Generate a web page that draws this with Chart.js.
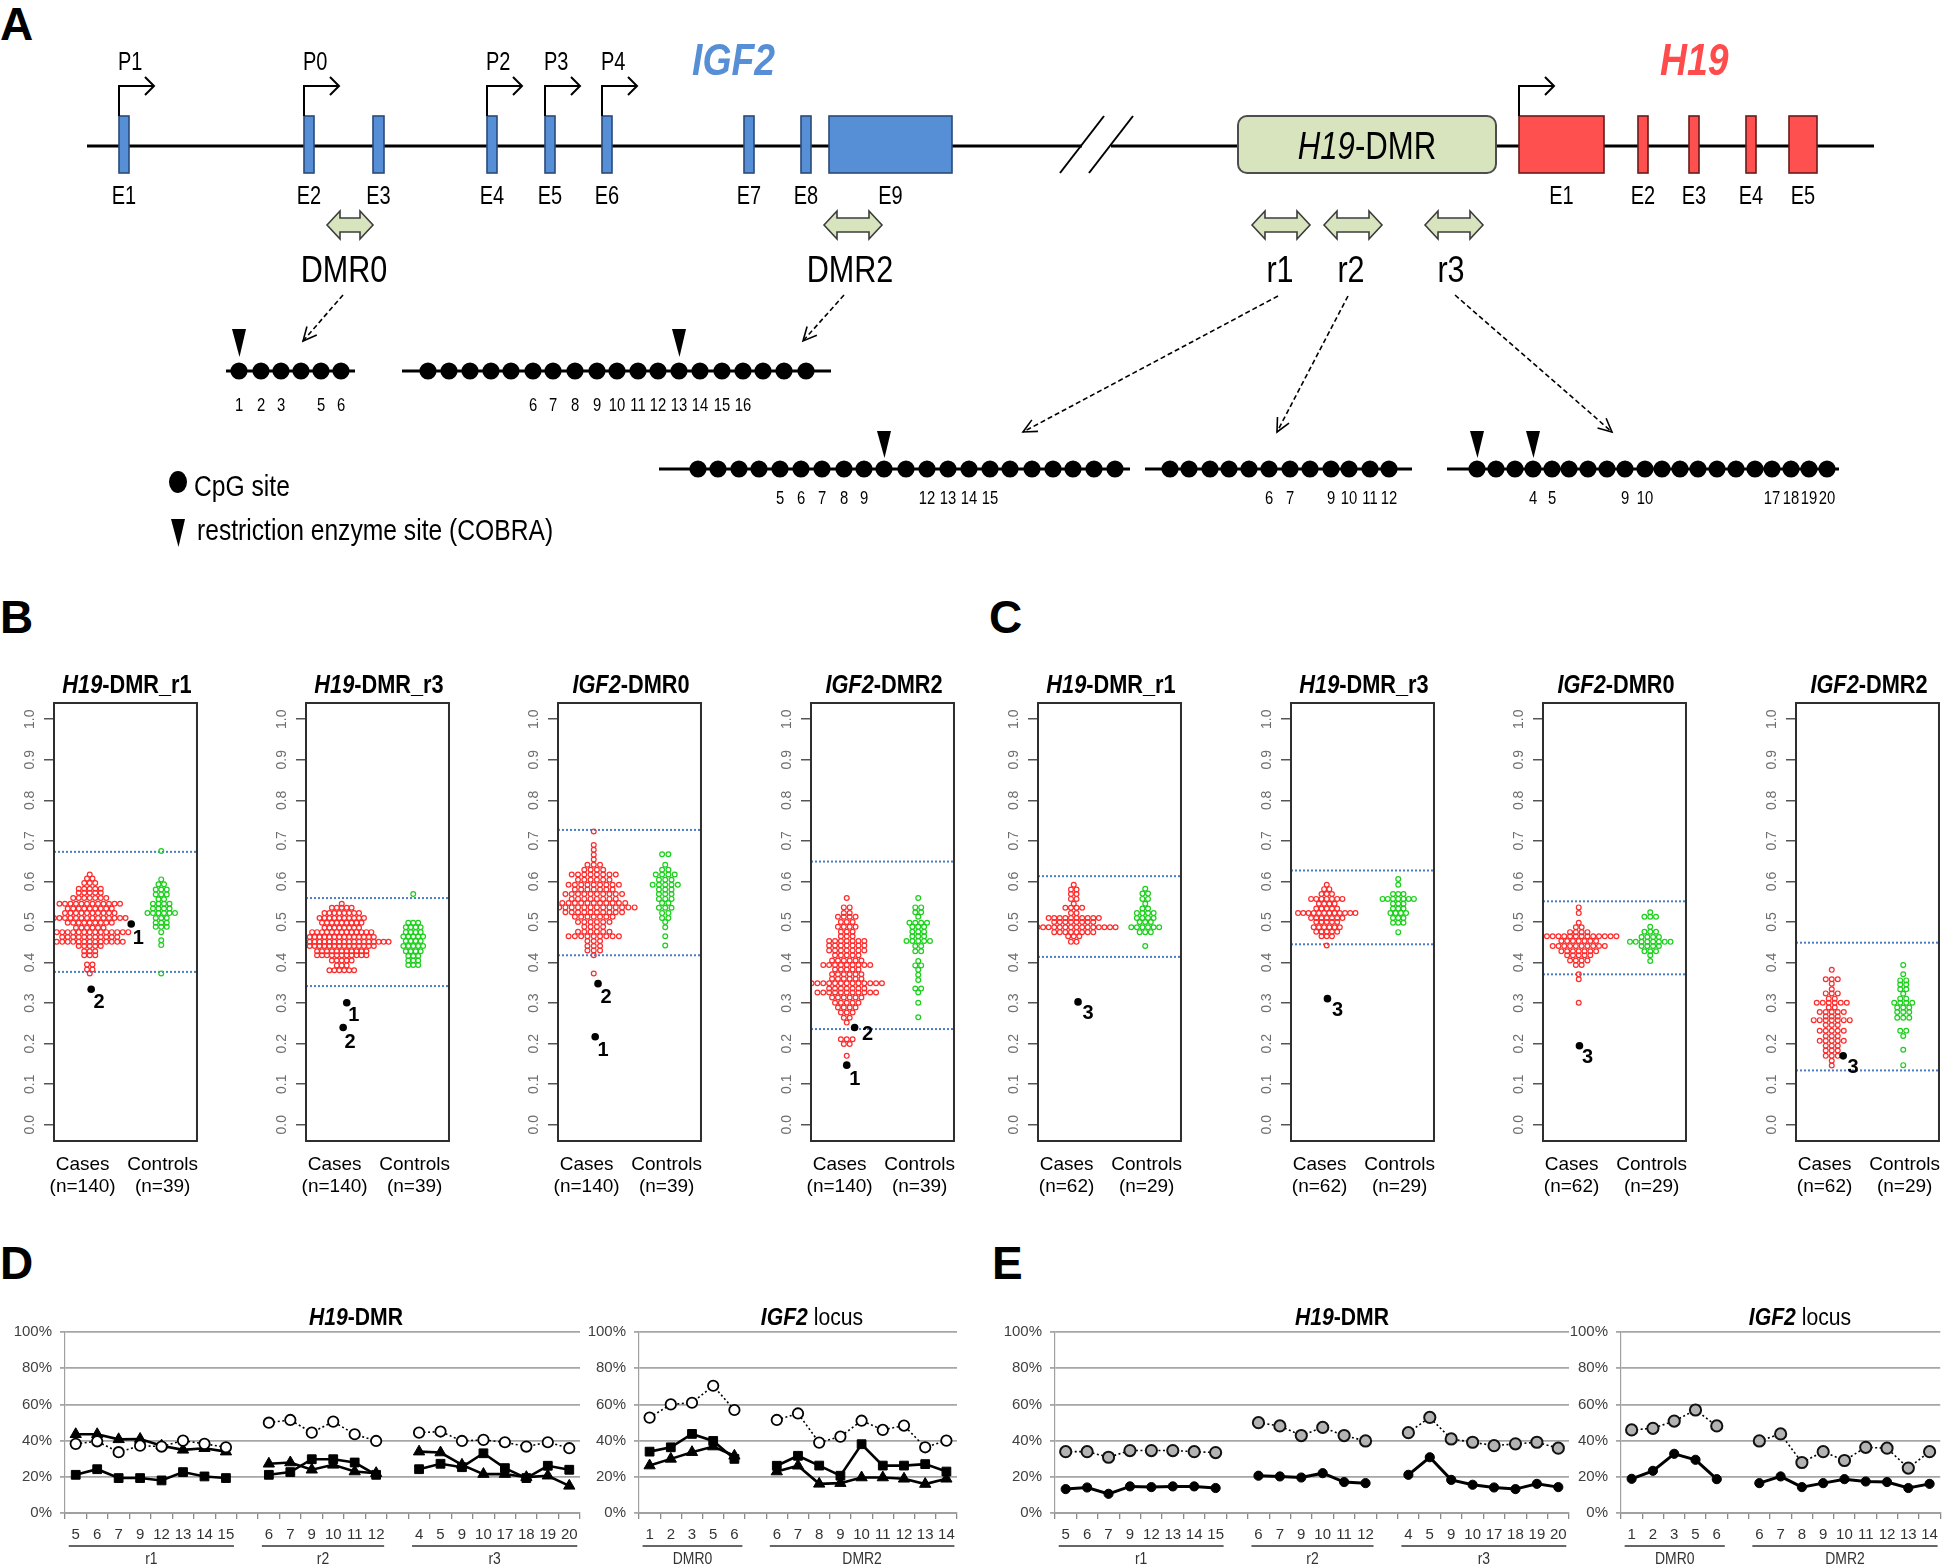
<!DOCTYPE html>
<html>
<head>
<meta charset="utf-8">
<title>H19-DMR / IGF2 methylation</title>
<script src="https://cdn.jsdelivr.net/npm/chart.js@4.4.1/dist/chart.umd.min.js"></script>
<style>
html,body{margin:0;padding:0;background:#fff;}
#page{position:relative;width:1945px;height:1568px;overflow:hidden;background:#fff;}
#page canvas{position:absolute;}
.panel{position:absolute;font-family:'Liberation Sans',Arial,sans-serif;font-weight:bold;font-size:46px;line-height:46px;color:#000;}
.ttl{position:absolute;white-space:nowrap;font-family:'Liberation Sans',Arial,sans-serif;line-height:1;color:#000;}
</style>
</head>
<body>
<div id="page">
  <div class="panel" style="left:0px;top:1px">A</div>
  <div class="panel" style="left:0px;top:594px">B</div>
  <div class="panel" style="left:989px;top:594px">C</div>
  <div class="panel" style="left:0px;top:1240px">D</div>
  <div class="panel" style="left:992px;top:1240px">E</div>
</div>
<script>
const FONT = "'Liberation Sans',Arial,sans-serif";
Chart.defaults.font.family = FONT;
Chart.defaults.color = '#000';

/* ================= Panels B & C : beeswarm data ================= */
const swarmYTicks = [0, 0.1, 0.2, 0.3, 0.4, 0.5, 0.6, 0.7, 0.8, 0.9, 1.0];
const swarmGroups = ['Cases', 'Controls'];
const nB = ['(n=140)', '(n=39)'];
const nC = ['(n=62)', '(n=29)'];

// B : H19-DMR_r1
const bR1CaseVal = [0.617,0.607,0.596,0.582,0.572,0.559,0.545,0.533,0.522,0.510,0.498,0.486,0.475,0.463,0.451,0.441,0.428,0.418,0.395,0.383,0.373];
const bR1CaseCnt = [1,2,3,5,5,7,12,9,10,14,9,6,15,11,13,5,3,3,2,2,1];
const bR1CtrlVal = [0.675,0.605,0.593,0.580,0.568,0.556,0.545,0.533,0.522,0.510,0.498,0.488,0.475,0.455,0.443,0.373];
const bR1CtrlCnt = [1,1,2,3,3,2,4,4,6,3,3,3,1,1,1,1];
const bR1OutVal = [0.495, 0.334];
const bR1OutLab = ['1', '2'];
const bR1Ref = [0.673, 0.377];
// B : H19-DMR_r3
const bR3CaseVal = [0.545,0.535,0.522,0.510,0.498,0.486,0.475,0.463,0.451,0.441,0.428,0.418,0.405,0.393,0.381];
const bR3CaseCnt = [1,5,8,10,9,8,13,14,20,14,11,11,5,3,6];
const bR3CtrlVal = [0.569,0.498,0.487,0.475,0.464,0.453,0.441,0.428,0.416,0.405,0.394];
const bR3CtrlCnt = [1,3,4,4,5,4,5,4,3,3,3];
const bR3OutVal = [0.301, 0.240];
const bR3OutLab = ['1', '2'];
const bR3Ref = [0.559, 0.342];
// B : IGF2-DMR0
const bD0CaseVal = [0.723,0.690,0.678,0.666,0.654,0.641,0.629,0.617,0.604,0.592,0.580,0.569,0.557,0.547,0.536,0.524,0.513,0.500,0.488,0.476,0.465,0.453,0.441,0.430,0.418,0.373];
const bD0CaseCnt = [1,1,1,1,1,3,4,8,6,9,7,10,8,11,14,10,7,6,4,6,9,3,3,3,1,1];
const bD0CtrlVal = [0.667,0.641,0.629,0.617,0.604,0.592,0.580,0.569,0.557,0.547,0.535,0.522,0.510,0.500,0.487,0.465,0.442];
const bD0CtrlCnt = [2,1,2,4,3,5,3,3,3,2,3,2,2,1,1,1,1];
const bD0OutVal = [0.348, 0.217];
const bD0OutLab = ['2', '1'];
const bD0Ref = [0.727, 0.418];
// B : IGF2-DMR2
const bD2CaseVal = [0.559,0.536,0.522,0.513,0.500,0.488,0.476,0.465,0.453,0.442,0.430,0.418,0.405,0.394,0.383,0.371,0.360,0.349,0.336,0.326,0.314,0.301,0.289,0.277,0.264,0.252,0.211,0.199,0.170];
const bD2CaseCnt = [1,2,2,4,3,4,3,3,7,7,7,5,6,9,5,6,6,13,7,11,6,5,4,3,2,1,3,2,1];
const bD2CtrlVal = [0.559,0.536,0.524,0.513,0.498,0.488,0.476,0.465,0.453,0.441,0.428,0.404,0.393,0.382,0.370,0.357,0.336,0.326,0.301,0.265];
const bD2CtrlCnt = [1,2,2,1,4,3,3,3,5,2,2,1,2,1,1,1,2,1,1,1];
const bD2OutVal = [0.240, 0.147];
const bD2OutLab = ['2', '1'];
const bD2Ref = [0.649, 0.236];
// C : H19-DMR_r1
const cR1CaseVal = [0.592,0.580,0.569,0.557,0.545,0.535,0.522,0.510,0.500,0.487,0.475,0.465,0.451];
const cR1CaseCnt = [1,2,2,2,1,4,2,10,8,16,8,3,2];
const cR1CtrlVal = [0.582,0.570,0.557,0.545,0.533,0.522,0.510,0.500,0.487,0.475,0.441];
const cR1CtrlCnt = [1,2,2,1,2,4,4,3,6,3,1];
const cR1OutVal = [0.303];
const cR1OutLab = ['3'];
const cR1Ref = [0.613, 0.414];
// C : H19-DMR_r3
const cR3CaseVal = [0.592,0.581,0.569,0.557,0.545,0.533,0.522,0.510,0.500,0.487,0.476,0.465,0.442];
const cR3CaseCnt = [1,2,3,7,4,5,12,7,5,6,5,3,1];
const cR3CtrlVal = [0.606,0.592,0.569,0.557,0.545,0.533,0.522,0.510,0.498,0.475];
const cR3CtrlCnt = [1,1,3,7,3,3,4,3,3,1];
const cR3OutVal = [0.311];
const cR3OutLab = ['3'];
const cR3Ref = [0.627, 0.445];
// C : IGF2-DMR0
const cD0CaseVal = [0.536,0.522,0.498,0.487,0.475,0.465,0.453,0.441,0.428,0.418,0.405,0.394,0.371,0.359,0.301];
const cD0CaseCnt = [1,1,1,2,4,14,7,10,7,5,4,2,1,1,1];
const cD0CtrlVal = [0.524,0.513,0.488,0.476,0.463,0.451,0.441,0.428,0.418,0.404];
const cD0CtrlCnt = [1,3,1,3,4,8,4,3,1,1];
const cD0OutVal = [0.195];
const cD0OutLab = ['3'];
const cD0Ref = [0.551, 0.371];
// C : IGF2-DMR2
const cD2CaseVal = [0.382,0.359,0.348,0.334,0.324,0.311,0.301,0.289,0.278,0.267,0.258,0.246,0.232,0.219,0.207,0.195,0.183,0.170,0.158,0.146];
const cD2CaseCnt = [1,3,1,1,3,2,6,2,5,3,7,3,5,3,5,3,3,3,1,1];
const cD2CtrlVal = [0.394,0.371,0.356,0.346,0.334,0.323,0.311,0.301,0.289,0.278,0.264,0.232,0.219,0.185,0.147];
const cD2CtrlCnt = [1,1,2,2,2,1,2,4,3,3,3,2,1,1,1];
const cD2OutVal = [0.170];
const cD2OutLab = ['3'];
const cD2Ref = [0.449, 0.134];

/* ================= Panels D & E : per-CpG methylation (%) ================= */
const h19Sites = ['5','6','7','9','12','13','14','15','','6','7','9','10','11','12','','4','5','9','10','17','18','19','20'];
const h19Regions = ['r1','r2','r3'];
const igf2Sites = ['1','2','3','5','6','','6','7','8','9','10','11','12','13','14'];
const igf2Regions = ['DMR0','DMR2'];
const pctTicks = [0, 20, 40, 60, 80, 100];

const dH19Circle   = [38.2,39.6,33.6,37.2,36.7,40.0,38.2,36.3,null,49.9,51.4,44.4,50.5,43.5,39.8,null,44.4,45.0,39.8,40.4,39.1,36.7,39.1,35.8];
const dH19Square   = [21.1,24.2,19.3,19.3,18.0,22.6,20.2,19.3,null,21.1,22.6,29.7,29.7,27.9,21.1,null,24.2,27.2,25.3,33.0,24.8,19.3,26.1,23.9];
const dH19Triangle = [43.5,43.5,40.7,40.9,37.2,34.9,35.8,33.9,null,27.2,27.9,23.9,26.6,22.9,22.0,null,33.9,33.4,26.6,21.5,21.5,19.8,20.6,15.0];
const dIgf2Circle   = [52.7,60.0,60.9,70.3,56.9,null,51.4,55.0,38.9,42.2,51.0,45.9,48.3,36.3,40.0];
const dIgf2Square   = [33.9,36.3,43.7,39.8,29.9,null,26.1,31.6,26.2,20.6,38.0,26.2,26.2,27.0,22.9];
const dIgf2Triangle = [26.2,29.9,33.6,36.7,31.6,null,22.9,26.1,16.1,16.5,19.6,19.6,18.9,16.0,18.9];
const eH19Grey   = [33.9,33.9,30.8,34.5,34.5,34.5,33.9,33.4,null,49.9,48.1,42.8,47.3,42.8,39.8,null,44.4,52.8,40.9,39.1,37.2,38.2,39.1,35.8];
const eH19Black  = [13.2,14.1,10.6,14.7,14.3,14.7,14.7,13.8,null,20.6,20.2,19.6,22.0,17.1,16.5,null,21.1,30.8,18.3,15.6,14.1,13.2,16.1,14.3];
const eIgf2Grey  = [45.9,46.8,50.8,56.9,48.1,null,39.8,43.7,27.9,33.9,29.0,36.3,35.8,24.8,33.9];
const eIgf2Black = [18.9,23.3,32.7,29.4,18.7,null,16.5,20.2,14.3,16.5,18.7,17.4,17.1,13.8,16.1];

/* ================= Panel A : schematic (diagram units) ================= */
const igf2Exons = [['E1',119,129],['E2',304,314],['E3',373,384],['E4',487,497],['E5',545,555],['E6',602,612],['E7',744,754],['E8',801,811],['E9',829,952]];
const h19Exons = [['E1',1519,1604],['E2',1638,1648],['E3',1689,1699],['E4',1746,1756],['E5',1789,1817]];
const igf2Promoters = [['P1',119],['P0',304],['P2',487],['P3',545],['P4',602]];
const regionNames = ['DMR0','DMR2','r1','r2','r3'];
const cpgDMR0 = [239,261,281,301,321,341];
const cpgDMR2 = [428,449,470,491,511,533,553,575,597,617,638,658,679,700,722,743,763,784,806];
const cpgR1 = [698,718,739,759,780,801,822,844,864,884,906,927,948,969,990,1010,1032,1053,1073,1094,1115];
const cpgR2 = [1170,1189,1210,1229,1249,1269,1290,1310,1331,1349,1370,1389];
const cpgR3 = [1477,1496,1515,1533,1552,1569,1588,1607,1625,1645,1662,1680,1698,1717,1736,1755,1772,1791,1809,1827];
const numDMR0 = [1,2,3,5,6];
const numDMR2 = [6,7,8,9,10,11,12,13,14,15,16];
const numR1 = [5,6,7,8,9,12,13,14,15];
const numR2 = [6,7,9,10,11,12];
const numR3 = [4,5,9,10,17,18,19,20];
const cobraDMR0 = [1], cobraDMR2 = [13], cobraR1 = [10], cobraR2 = [], cobraR3 = [1,4];

/* ================= helpers ================= */
const page = document.getElementById('page');
function makeCanvas(left, top, w, h) {
  const c = document.createElement('canvas');
  c.width = w; c.height = h;
  c.style.left = left + 'px'; c.style.top = top + 'px';
  c.style.width = w + 'px'; c.style.height = h + 'px';
  page.appendChild(c);
  return c;
}
function addText(html, x, y, css, sx) {
  const d = document.createElement('div');
  d.className = 'ttl';
  d.innerHTML = html;
  d.style.left = x + 'px'; d.style.top = y + 'px';
  d.style.transform = 'translate(-50%,-50%) scaleX(' + (sx || 1) + ')';
  Object.assign(d.style, css || {});
  page.appendChild(d);
}

/* ================= Panel A chart ================= */
const cpgRowsLayout = [
  {sites: cpgDMR0, nums: numDMR0, cobra: cobraDMR0, y: 371, line: [226, 355], numY: 411, cut: [42, 14]},
  {sites: cpgDMR2, nums: numDMR2, cobra: cobraDMR2, y: 371, line: [402, 831], numY: 411, cut: [42, 14]},
  {sites: cpgR1, nums: numR1, cobra: cobraR1, y: 469, line: [659, 1130], numY: 504, cut: [38, 11]},
  {sites: cpgR2, nums: numR2, cobra: cobraR2, y: 469, line: [1145, 1412], numY: 504, cut: [38, 11]},
  {sites: cpgR3, nums: numR3, cobra: cobraR3, y: 469, line: [1447, 1839], numY: 504, cut: [38, 11]}
];
const regionArrowLayout = [[350, 46, 344], [853, 58, 850], [1281, 58, 1280], [1353, 58, 1351], [1454, 58, 1451]];
const zoomArrowLayout = [[343,295,303,341],[844,295,803,341],[1278,296,1023,432],[1348,296,1277,432],[1455,295,1612,432]];

const schemePlugin = {
  id: 'scheme',
  beforeDatasetsDraw(chart) {
    const ctx = chart.ctx;
    const X = v => chart.scales.x.getPixelForValue(v);
    const Y = v => chart.scales.y.getPixelForValue(v);
    const seg = (x1, y1, x2, y2, w, col) => {
      ctx.beginPath(); ctx.lineWidth = w; ctx.strokeStyle = col || '#000';
      ctx.moveTo(X(x1), Y(y1)); ctx.lineTo(X(x2), Y(y2)); ctx.stroke();
    };
    ctx.save();
    ctx.lineCap = 'butt';
    seg(87, 146, 1082, 146, 3);
    seg(1111, 146, 1874, 146, 3);
    seg(1060, 173, 1104, 116, 2);
    seg(1089, 173, 1133, 116, 2);
    const exon = (a, b, fill, stroke) => {
      ctx.fillStyle = fill; ctx.strokeStyle = stroke; ctx.lineWidth = 1.6;
      ctx.fillRect(X(a), Y(116), X(b) - X(a), Y(173) - Y(116));
      ctx.strokeRect(X(a), Y(116), X(b) - X(a), Y(173) - Y(116));
    };
    igf2Exons.forEach(e => exon(e[1], e[2], '#568fd6', '#2a4a78'));
    h19Exons.forEach(e => exon(e[1], e[2], '#ff5050', '#6a1a1a'));
    {
      const x1 = X(1238), x2 = X(1496), y1 = Y(116), y2 = Y(173), r = 9;
      ctx.beginPath();
      ctx.moveTo(x1 + r, y1); ctx.lineTo(x2 - r, y1); ctx.arcTo(x2, y1, x2, y1 + r, r);
      ctx.lineTo(x2, y2 - r); ctx.arcTo(x2, y2, x2 - r, y2, r);
      ctx.lineTo(x1 + r, y2); ctx.arcTo(x1, y2, x1, y2 - r, r);
      ctx.lineTo(x1, y1 + r); ctx.arcTo(x1, y1, x1 + r, y1, r);
      ctx.closePath();
      ctx.fillStyle = '#d7e4bd'; ctx.fill();
      ctx.strokeStyle = '#4d4d4d'; ctx.lineWidth = 2; ctx.stroke();
    }
    const promoter = x => {
      ctx.strokeStyle = '#000'; ctx.lineWidth = 2;
      ctx.beginPath(); ctx.moveTo(X(x), Y(116)); ctx.lineTo(X(x), Y(86)); ctx.lineTo(X(x + 35), Y(86)); ctx.stroke();
      ctx.beginPath(); ctx.moveTo(X(x + 26), Y(77)); ctx.lineTo(X(x + 35), Y(86)); ctx.lineTo(X(x + 26), Y(95)); ctx.stroke();
    };
    igf2Promoters.forEach(p => promoter(p[1]));
    promoter(h19Exons[0][1]);
    regionArrowLayout.forEach(([cx, w]) => {
      const hw = w / 2, head = 13, cy = 225, hh = 14, sh = 7;
      ctx.beginPath();
      ctx.moveTo(X(cx - hw), Y(cy));
      ctx.lineTo(X(cx - hw + head), Y(cy - hh)); ctx.lineTo(X(cx - hw + head), Y(cy - sh));
      ctx.lineTo(X(cx + hw - head), Y(cy - sh)); ctx.lineTo(X(cx + hw - head), Y(cy - hh));
      ctx.lineTo(X(cx + hw), Y(cy));
      ctx.lineTo(X(cx + hw - head), Y(cy + hh)); ctx.lineTo(X(cx + hw - head), Y(cy + sh));
      ctx.lineTo(X(cx - hw + head), Y(cy + sh)); ctx.lineTo(X(cx - hw + head), Y(cy + hh));
      ctx.closePath();
      ctx.fillStyle = '#d7e4bd'; ctx.fill();
      ctx.strokeStyle = '#3c3c3c'; ctx.lineWidth = 1.6; ctx.stroke();
    });
    zoomArrowLayout.forEach(([x1, y1, x2, y2]) => {
      ctx.strokeStyle = '#000'; ctx.lineWidth = 1.6;
      ctx.setLineDash([5, 3]);
      ctx.beginPath(); ctx.moveTo(X(x1), Y(y1)); ctx.lineTo(X(x2), Y(y2)); ctx.stroke();
      ctx.setLineDash([]);
      const a = Math.atan2(y2 - y1, x2 - x1), L = 15;
      ctx.beginPath();
      ctx.moveTo(X(x2 - L * Math.cos(a - 0.45)), Y(y2 - L * Math.sin(a - 0.45)));
      ctx.lineTo(X(x2), Y(y2));
      ctx.lineTo(X(x2 - L * Math.cos(a + 0.45)), Y(y2 - L * Math.sin(a + 0.45)));
      ctx.stroke();
    });
    cpgRowsLayout.forEach(r => seg(r.line[0], r.y, r.line[1], r.y, 3));
    ctx.restore();
  },
  afterDatasetsDraw(chart) {
    const ctx = chart.ctx;
    const X = v => chart.scales.x.getPixelForValue(v);
    const Y = v => chart.scales.y.getPixelForValue(v);
    ctx.save();
    const text = (s, x, y, font, align, col, sx) => {
      ctx.save();
      ctx.font = font; ctx.textAlign = align || 'center'; ctx.fillStyle = col || '#000'; ctx.textBaseline = 'alphabetic';
      ctx.translate(X(x), Y(y)); ctx.scale(sx || 0.8, 1);
      ctx.fillText(s, 0, 0);
      ctx.restore();
    };
    const tri = (x, top, bot) => {
      ctx.beginPath(); ctx.moveTo(X(x - 7), Y(top)); ctx.lineTo(X(x + 7), Y(top)); ctx.lineTo(X(x + 0.5), Y(bot)); ctx.closePath();
      ctx.fillStyle = '#000'; ctx.fill();
    };
    cpgRowsLayout.forEach(r => {
      r.cobra.forEach(k => tri(r.sites[k - 1], r.y - r.cut[0], r.y - r.cut[1]));
      r.nums.forEach(k => text(String(k), r.sites[k - 1], r.numY, '19px ' + FONT, 'center', '#000', 0.78));
    });
    igf2Promoters.forEach(p => text(p[0], p[1] - 1, 70, '25px ' + FONT, 'left'));
    igf2Exons.forEach(e => text(e[0], (e[1] + e[2]) / 2, 204, '25px ' + FONT));
    h19Exons.forEach(e => text(e[0], (e[1] + e[2]) / 2, 204, '25px ' + FONT));
    text('IGF2', 692, 75, 'italic bold 44px ' + FONT, 'left', '#568fd6', 0.85);
    text('H19', 1660, 75, 'italic bold 44px ' + FONT, 'left', '#ff4b4b', 0.85);
    {
      const f1 = 'italic 38px ' + FONT, f2 = '38px ' + FONT, sx = 0.82;
      ctx.font = f1; const w1 = ctx.measureText('H19').width;
      ctx.font = f2; const w2 = ctx.measureText('-DMR').width;
      ctx.save();
      ctx.translate(X(1367), Y(159)); ctx.scale(sx, 1);
      const x0 = -(w1 + w2) / 2;
      ctx.textAlign = 'left'; ctx.fillStyle = '#000'; ctx.textBaseline = 'alphabetic';
      ctx.font = f1; ctx.fillText('H19', x0, 0);
      ctx.font = f2; ctx.fillText('-DMR', x0 + w1, 0);
      ctx.restore();
    }
    regionArrowLayout.forEach((r, i) => text(regionNames[i], r[2], 282, '36px ' + FONT, 'center', '#000', 0.85));
    ctx.beginPath(); ctx.fillStyle = '#000';
    ctx.ellipse(X(178), Y(482), 9, 11, 0, 0, Math.PI * 2); ctx.fill();
    text('CpG site', 194, 496, '29px ' + FONT, 'left', '#000', 0.85);
    tri(178, 519, 547);
    text('restriction enzyme site (COBRA)', 197, 540, '29px ' + FONT, 'left', '#000', 0.85);
    ctx.restore();
  }
};

new Chart(makeCanvas(0, 0, 1945, 560), {
  type: 'scatter',
  data: {
    datasets: cpgRowsLayout.map(r => ({
      data: r.sites.map(x => ({x: x, y: r.y})),
      pointRadius: 8.6, pointBackgroundColor: '#000', pointBorderColor: '#000', pointBorderWidth: 0
    }))
  },
  options: {
    responsive: false, animation: false, events: [],
    layout: {padding: 0, autoPadding: false},
    plugins: {legend: {display: false}, tooltip: {enabled: false}},
    scales: {
      x: {type: 'linear', min: 0, max: 1945, display: false},
      y: {type: 'linear', min: 0, max: 560, reverse: true, display: false}
    }
  },
  plugins: [schemePlugin]
});

/* ================= Panels B & C charts ================= */
function swarmPoints(center, vals, cnts, dx) {
  const pts = [];
  vals.forEach((v, r) => {
    const c = cnts[r];
    for (let i = 0; i < c; i++) pts.push({x: center + (i - (c - 1) / 2) * dx, y: v});
  });
  return pts;
}
const boxPlugin = {
  id: 'box',
  afterDatasetsDraw(chart) {
    const {ctx, chartArea: a} = chart;
    ctx.save(); ctx.strokeStyle = '#2e2e2e'; ctx.lineWidth = 2;
    ctx.strokeRect(a.left, a.top, a.right - a.left, a.bottom - a.top);
    ctx.restore();
  }
};
const outLabelPlugin = {
  id: 'outlab',
  afterDatasetsDraw(chart, args, opts) {
    const ctx = chart.ctx;
    ctx.save(); ctx.fillStyle = '#000'; ctx.font = 'bold 20px ' + FONT;
    ctx.textAlign = 'center'; ctx.textBaseline = 'middle';
    (opts.items || []).forEach(it => {
      ctx.fillText(it.label, chart.scales.x.getPixelForValue(it.x) + it.dx, chart.scales.y.getPixelForValue(it.y) + it.dy);
    });
    ctx.restore();
  }
};

const swarmPanels = [
  {box: 54,   title: '<i>H19</i>-DMR_r1', n: nB, cv: bR1CaseVal, cc: bR1CaseCnt, tv: bR1CtrlVal, tc: bR1CtrlCnt, ov: bR1OutVal, ol: bR1OutLab, ox: [1.58, 1.02], off: [[7, 14], [8, 13]], ref: bR1Ref, dx: 0.077},
  {box: 306,  title: '<i>H19</i>-DMR_r3', n: nB, cv: bR3CaseVal, cc: bR3CaseCnt, tv: bR3CtrlVal, tc: bR3CtrlCnt, ov: bR3OutVal, ol: bR3OutLab, ox: [1.07, 1.02], off: [[7, 13], [7, 15]], ref: bR3Ref, dx: 0.069},
  {box: 558,  title: '<i>IGF2</i>-DMR0', n: nB, cv: bD0CaseVal, cc: bD0CaseCnt, tv: bD0CtrlVal, tc: bD0CtrlCnt, ov: bD0OutVal, ol: bD0OutLab, ox: [1.06, 1.02], off: [[8, 14], [8, 14]], ref: bD0Ref, dx: 0.088},
  {box: 811,  title: '<i>IGF2</i>-DMR2', n: nB, cv: bD2CaseVal, cc: bD2CaseCnt, tv: bD2CtrlVal, tc: bD2CtrlCnt, ov: bD2OutVal, ol: bD2OutLab, ox: [1.11, 1.0], off: [[13, 7], [8, 14]], ref: bD2Ref, dx: 0.082},
  {box: 1038, title: '<i>H19</i>-DMR_r1', n: nC, cv: cR1CaseVal, cc: cR1CaseCnt, tv: cR1CtrlVal, tc: cR1CtrlCnt, ov: cR1OutVal, ol: cR1OutLab, ox: [1.06], off: [[10, 12]], ref: cR1Ref, dx: 0.078},
  {box: 1291, title: '<i>H19</i>-DMR_r3', n: nC, cv: cR3CaseVal, cc: cR3CaseCnt, tv: cR3CtrlVal, tc: cR3CtrlCnt, ov: cR3OutVal, ol: cR3OutLab, ox: [1.01], off: [[10, 12]], ref: cR3Ref, dx: 0.073},
  {box: 1543, title: '<i>IGF2</i>-DMR0', n: nC, cv: cD0CaseVal, cc: cD0CaseCnt, tv: cD0CtrlVal, tc: cD0CtrlCnt, ov: cD0OutVal, ol: cD0OutLab, ox: [1.01], off: [[8, 12]], ref: cD0Ref, dx: 0.081},
  {box: 1796, title: '<i>IGF2</i>-DMR2', n: nC, cv: cD2CaseVal, cc: cD2CaseCnt, tv: cD2CtrlVal, tc: cD2CtrlCnt, ov: cD2OutVal, ol: cD2OutLab, ox: [1.16], off: [[10, 12]], ref: cD2Ref, dx: 0.084}
];
const swarmLabelPos = [0.9, 2.02];

swarmPanels.forEach(p => {
  const cvs = makeCanvas(p.box - 54, 690, 204, 511);
  const refSets = p.ref.map(v => ({
    data: [{x: 0.5, y: v}, {x: 2.5, y: v}], showLine: true,
    borderColor: '#4a7dc4', borderWidth: 2, borderDash: [2, 2], pointRadius: 0
  }));
  new Chart(cvs, {
    type: 'scatter',
    data: {
      datasets: [
        {data: p.ov.map((v, i) => ({x: p.ox[i], y: v})), pointRadius: 3.8, pointBackgroundColor: '#000', pointBorderColor: '#000', pointBorderWidth: 0},
        {data: swarmPoints(1, p.cv, p.cc, p.dx), pointRadius: 2.4, pointBorderWidth: 1.2, pointBorderColor: '#ff2a2a', pointBackgroundColor: 'rgba(255,255,255,0)'},
        {data: swarmPoints(2, p.tv, p.tc, p.dx), pointRadius: 2.4, pointBorderWidth: 1.2, pointBorderColor: '#19d019', pointBackgroundColor: 'rgba(255,255,255,0)'},
        ...refSets
      ]
    },
    options: {
      responsive: false, animation: false, events: [],
      layout: {padding: {top: 13, right: 4, left: 0, bottom: 0}, autoPadding: false},
      plugins: {
        legend: {display: false}, tooltip: {enabled: false},
        outlab: {items: p.ov.map((v, i) => ({x: p.ox[i], y: v, label: p.ol[i], dx: p.off[i][0], dy: p.off[i][1]}))}
      },
      scales: {
        x: {
          type: 'linear', min: 0.5, max: 2.5,
          afterBuildTicks: s => { s.ticks = swarmLabelPos.map(v => ({value: v})); },
          ticks: {callback: (v, i) => [swarmGroups[i], p.n[i]], color: '#000', font: {size: 19, family: FONT, lineHeight: 1.15}, padding: 5, maxRotation: 0, minRotation: 0},
          grid: {display: false}, border: {display: false},
          afterFit: s => { s.height = 60; }
        },
        y: {
          type: 'linear', min: -0.04, max: 1.04,
          afterBuildTicks: s => { s.ticks = swarmYTicks.map(v => ({value: v})); },
          ticks: {callback: v => v.toFixed(1), minRotation: 90, maxRotation: 90, crossAlign: 'center', padding: 4, color: '#6e6e6e', font: {size: 14, family: FONT}},
          grid: {drawOnChartArea: false, drawTicks: true, tickLength: 10, color: '#555', lineWidth: 1.5},
          border: {display: false},
          afterFit: s => { s.width = 54; }
        }
      }
    },
    plugins: [boxPlugin, outLabelPlugin]
  });
  addText(p.title, p.box + 73, 684, {fontSize: '25px', fontWeight: 'bold'}, 0.87);
});

/* ================= Panels D & E charts ================= */
function regionsOf(labels, names) {
  const out = []; let start = null;
  labels.forEach((l, i) => {
    if (l !== '' && start === null) start = i;
    const last = i === labels.length - 1;
    if (start !== null && (l === '' || last)) {
      out.push({label: names[out.length], from: start, to: l === '' ? i - 1 : i});
      start = null;
    }
  });
  return out;
}
const regionPlugin = {
  id: 'regions',
  afterDraw(chart, args, opts) {
    const ctx = chart.ctx, xs = chart.scales.x, b = chart.chartArea.bottom;
    ctx.save(); ctx.strokeStyle = '#333'; ctx.lineWidth = 1.5; ctx.fillStyle = '#333';
    ctx.font = '17px ' + FONT; ctx.textAlign = 'center'; ctx.textBaseline = 'middle';
    (opts.groups || []).forEach(g => {
      const x1 = xs.getPixelForValue(g.from) - 7, x2 = xs.getPixelForValue(g.to) + 8;
      ctx.beginPath(); ctx.moveTo(x1, b + 33); ctx.lineTo(x2, b + 33); ctx.stroke();
      ctx.save(); ctx.translate((x1 + x2) / 2, b + 46); ctx.scale(0.82, 1);
      ctx.fillText(g.label, 0, 0);
      ctx.restore();
    });
    ctx.restore();
  }
};
const seriesStyles = {
  open:     {borderColor: '#000', borderWidth: 1.6, borderDash: [2, 2.5], pointStyle: 'circle', pointRadius: 5.2, pointBorderWidth: 1.8, pointBackgroundColor: '#fff', pointBorderColor: '#000'},
  square:   {borderColor: '#000', borderWidth: 2.6, pointStyle: 'rect', pointRadius: 6.2, pointBorderWidth: 1, pointBackgroundColor: '#000', pointBorderColor: '#000'},
  triangle: {borderColor: '#000', borderWidth: 2.6, pointStyle: 'triangle', pointRadius: 6.5, pointBorderWidth: 1, pointBackgroundColor: '#000', pointBorderColor: '#000'},
  grey:     {borderColor: '#000', borderWidth: 1.6, borderDash: [2, 2.5], pointStyle: 'circle', pointRadius: 5.6, pointBorderWidth: 2, pointBackgroundColor: '#b3b3b3', pointBorderColor: '#111'},
  black:    {borderColor: '#000', borderWidth: 3, pointStyle: 'circle', pointRadius: 4.6, pointBorderWidth: 1, pointBackgroundColor: '#000', pointBorderColor: '#000'}
};
const lineCharts = [
  {left: 1,    width: 589, padRight: 10, labels: h19Sites,  names: h19Regions,  series: [['open', dH19Circle], ['square', dH19Square], ['triangle', dH19Triangle]], title: '<b><i>H19</i>-DMR</b>', tx: 356},
  {left: 575,  width: 390, padRight: 8,  labels: igf2Sites, names: igf2Regions, series: [['open', dIgf2Circle], ['square', dIgf2Square], ['triangle', dIgf2Triangle]], title: '<b><i>IGF2</i></b> locus', tx: 812},
  {left: 991,  width: 588, padRight: 10, labels: h19Sites,  names: h19Regions,  series: [['grey', eH19Grey], ['black', eH19Black]], title: '<b><i>H19</i>-DMR</b>', tx: 1342},
  {left: 1557, width: 388, padRight: 2,  labels: igf2Sites, names: igf2Regions, series: [['grey', eIgf2Grey], ['black', eIgf2Black]], title: '<b><i>IGF2</i></b> locus', tx: 1800}
];
lineCharts.forEach(lc => {
  const cvs = makeCanvas(lc.left, 1300, lc.width, 268);
  new Chart(cvs, {
    type: 'line',
    data: {
      labels: lc.labels,
      datasets: lc.series.map(([st, d]) => Object.assign({data: d, spanGaps: false, tension: 0, fill: false}, seriesStyles[st]))
    },
    options: {
      responsive: false, animation: false, events: [],
      layout: {padding: {top: 32, right: lc.padRight, left: 0, bottom: 0}, autoPadding: false},
      plugins: {legend: {display: false}, tooltip: {enabled: false}, regions: {groups: regionsOf(lc.labels, lc.names)}},
      scales: {
        x: {
          type: 'category', offset: true,
          grid: {offset: true, drawOnChartArea: false, drawTicks: true, tickLength: 6, color: '#8a8a8a', lineWidth: 1.3},
          border: {display: true, color: '#a0a0a0', width: 2},
          ticks: {autoSkip: false, maxRotation: 0, minRotation: 0, padding: 7, color: '#333', font: {size: 15, family: FONT}},
          afterFit: s => { s.height = 55; }
        },
        y: {
          type: 'linear', min: 0, max: 100,
          afterBuildTicks: s => { s.ticks = pctTicks.map(v => ({value: v})); },
          ticks: {callback: v => v + '%', padding: 8, color: '#404040', font: {size: 15, family: FONT}},
          grid: {color: '#a6a6a6', lineWidth: 1.8, tickLength: 5},
          border: {display: true, color: '#a0a0a0', width: 1.2},
          afterFit: s => { s.width = 64; }
        }
      }
    },
    plugins: [regionPlugin]
  });
  addText(lc.title, lc.tx, 1317, {fontSize: '23px', fontWeight: 'normal'}, 0.92);
});
</script>
</body>
</html>
